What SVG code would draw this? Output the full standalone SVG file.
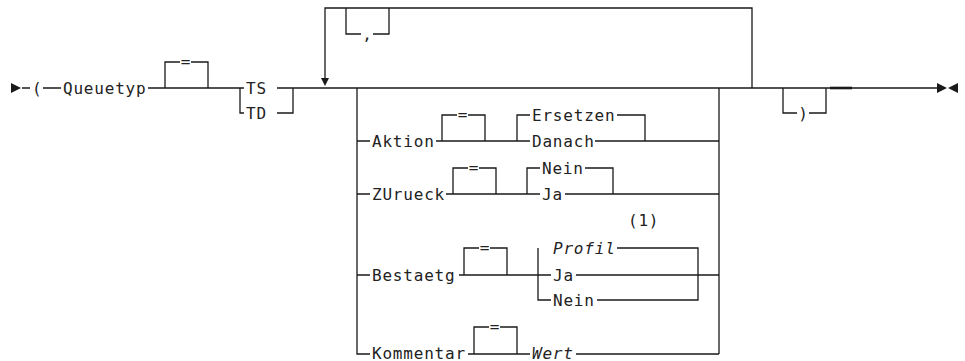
<svg xmlns="http://www.w3.org/2000/svg" width="965" height="361" viewBox="0 0 965 361">
<style>
.t{font-family:"DejaVu Sans Mono","Liberation Mono",monospace;font-size:16px;letter-spacing:0.8px;fill:#222}
.i{font-style:italic}
.m{text-anchor:middle;letter-spacing:0}
.c path{fill:none;stroke:#1a1a1a;stroke-width:1.3}
.a{fill:#1a1a1a}
</style>
<rect width="965" height="361" fill="#fff"/>
<g id="connectors" class="c">
<path d="M22 88H30M43 88H61M148 88H244"/>
<path d="M165 88V62H180M191 62H208V88"/>
<path d="M240 88V113H244M277 113H293V88M277 88H937"/>
<path d="M752 88V8H325V78"/>
<path d="M346 8V34H361M373 34H389V8"/>
<path d="M357 88V354H370M719 88V354"/>
<path d="M357 141H370M436 141H530M442 141V115H457M468 115H485V141M517 141V115H530M617 115H645V141M595 141H719"/>
<path d="M357 194H370M446 194H540M453 194V168H468M479 168H496V194M527 194V168H540M585 168H613V194M565 194H719"/>
<path d="M357 275H370M459 275H551M464 275V248H479M490 248H507V275M538 248V300H551M538 275H551M617 248H698V300H597M576 275H719"/>
<path d="M468 354H530M474 354V327H489M500 327H517V354M576 354H719"/>
<path d="M783 88V113H797M809 113H826V88"/>
<path d="M830 88H852" style="stroke-width:2.6"/>
</g>
<g id="start"><polygon class="a" points="11,83 11,93 21,88"/></g>
<g id="end"><polygon class="a" points="937,83 937,93 947,88"/><polygon class="a" points="958,83 958,93 948,88"/></g>
<g id="loop-arrow"><polygon class="a" points="321,78 329,78 325,86"/></g>
<g id="open-paren"><text class="t" x="32" y="94">(</text></g>
<g id="queuetyp"><text class="t" x="63" y="94">Queuetyp</text></g>
<g id="eq1"><text class="t m" x="185.5" y="67">=</text></g>
<g id="ts"><text class="t" x="246" y="94">TS</text></g>
<g id="td"><text class="t" x="246" y="119">TD</text></g>
<g id="comma"><text class="t m" x="367" y="40">,</text></g>
<g id="aktion"><text class="t" x="372" y="147">Aktion</text><text class="t m" x="462.5" y="120">=</text><text class="t" x="532" y="121">Ersetzen</text><text class="t" x="532" y="147">Danach</text></g>
<g id="zurueck"><text class="t" x="372" y="200">ZUrueck</text><text class="t m" x="473.5" y="173">=</text><text class="t" x="542" y="174">Nein</text><text class="t" x="542" y="200">Ja</text></g>
<g id="bestaetg"><text class="t" x="372" y="281">Bestaetg</text><text class="t m" x="484.5" y="253">=</text><text class="t i" x="553" y="254">Profil</text><text class="t" x="553" y="281">Ja</text><text class="t" x="553" y="306">Nein</text><text class="t" x="628" y="226">(1)</text></g>
<g id="kommentar"><text class="t" x="372" y="359">Kommentar</text><text class="t m" x="494.5" y="332">=</text><text class="t i" x="532" y="359">Wert</text></g>
<g id="close-paren"><text class="t m" x="803" y="119">)</text></g>
</svg>
